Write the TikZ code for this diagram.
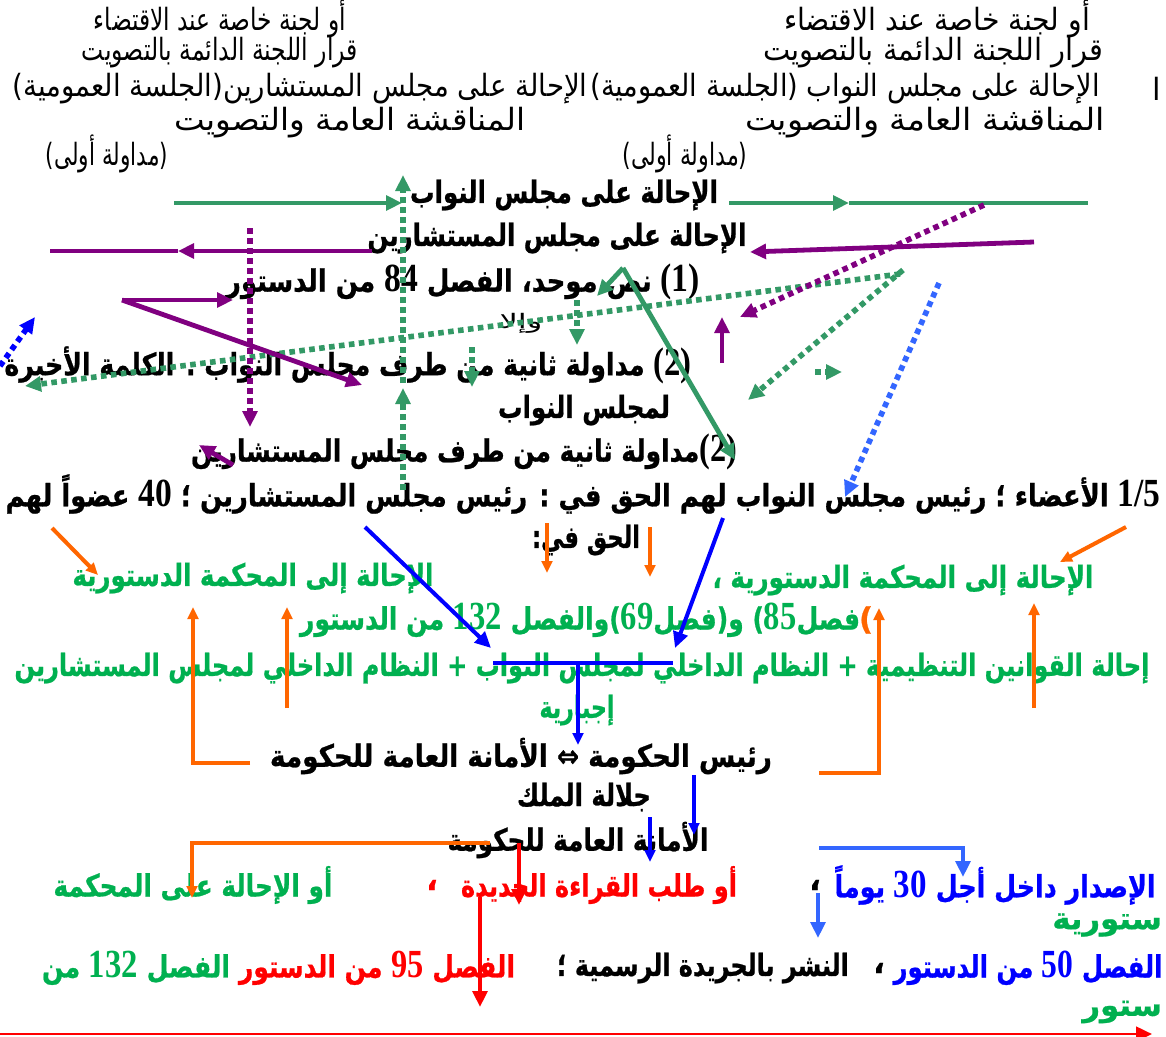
\documentclass[tikz,border=0pt]{standalone}
\usepackage{fontspec}
\usepackage{graphicx}
\usetikzlibrary{arrows.meta}
\TeXXeTstate=1
\newfontfamily\arab[Script=Arabic]{DejaVu Sans}
\newfontfamily\arabB[Script=Arabic,FakeBold=0.8]{DejaVu Sans Bold}
\newfontfamily\numf{Liberation Serif Bold}
\newdimen\pxu \pxu=0.75pt
\newcommand\AR[2]{\resizebox{#1\pxu}{\height}{#2}}
\newcommand\NN[1]{\beginL\scalebox{1.3}{\numf #1}\endL}
\definecolor{tgreen}{HTML}{00B050}
\definecolor{agreen}{HTML}{339966}
\definecolor{purp}{HTML}{800080}
\definecolor{bblue}{HTML}{0000FF}
\definecolor{lblue}{HTML}{3366FF}
\definecolor{orng}{HTML}{FF6600}
\definecolor{rred}{HTML}{FF0000}
\begin{document}
\begin{tikzpicture}[x=0.75pt,y=-0.75pt,
  tx/.style={inner sep=0pt,outer sep=0pt,anchor=center},
  reg/.style={tx,font=\arab\fontsize{23}{26}\selectfont},
  small/.style={tx,font=\arab\fontsize{15}{17}\selectfont},
  bld/.style={tx,font=\arabB\fontsize{23}{27}\selectfont},
  tipL/.style={-{Triangle[length=12pt,width=11pt]}},
  tipS/.style={-{Triangle[length=9pt,width=8pt]}},
  gsol/.style={draw=agreen,line width=3.6pt},
  gdot/.style={draw=agreen,line width=4.2pt,dash pattern=on 4.2pt off 3.3pt},
  psol/.style={draw=purp,line width=3.6pt},
  pdot/.style={draw=purp,line width=4.2pt,dash pattern=on 4.2pt off 3.3pt},
  bsol/.style={draw=bblue,line width=3pt},
  bdot/.style={draw=bblue,line width=4.2pt,dash pattern=on 4.2pt off 3.3pt},
  lbdot/.style={draw=lblue,line width=4.2pt,dash pattern=on 4.2pt off 3.3pt},
  lbsol/.style={draw=lblue,line width=3pt},
  osol/.style={draw=orng,line width=3pt},
  rsol/.style={draw=rred,line width=3.5pt},
  rthin/.style={draw=rred,line width=2pt}]
\useasboundingbox (0,0) rectangle (1166,1036);
\fill[white] (0,0) rectangle (1166,1036);
\clip (0,0) rectangle (1166,1036);

% ---------- top blocks ----------
\node[reg] (l1) at (220,19) {\AR{252}{\beginR أو لجنة خاصة عند الاقتضاء\endR}};
\node[reg] (l2) at (220,53) {\AR{276}{\beginR قرار اللجنة الدائمة بالتصويت\endR}};
\node[reg] (l3) at (300,89) {\AR{575}{\beginR الإحالة على مجلس المستشارين(الجلسة العمومية)\endR}};
\node[reg] (l4) at (350,123) {\AR{350}{\beginR المناقشة العامة والتصويت\endR}};
\node[reg] (l5) at (107,154) {\AR{122}{\beginR (مداولة أولى)\endR}};

\node[reg] (r1) at (937,19) {\AR{306}{\beginR أو لجنة خاصة عند الاقتضاء\endR}};
\node[reg] (r2) at (933,53) {\AR{340}{\beginR قرار اللجنة الدائمة بالتصويت\endR}};
\node[reg] (r3) at (845,89) {\AR{509}{\beginR الإحالة على مجلس النواب (الجلسة العمومية)\endR}};
\node[reg] (r3b) at (1157,89) {ا};
\node[reg] (r4) at (925,123) {\AR{360}{\beginR المناقشة العامة والتصويت\endR}};
\node[reg] (r5) at (685,154) {\AR{125}{\beginR (مداولة أولى)\endR}};

% ---------- middle black bold ----------
\node[bld] (m1) at (564,195) {\AR{308}{\beginR الإحالة على مجلس النواب\endR}};
\node[bld] (m2) at (557,238) {\AR{379}{\beginR الإحالة على مجلس المستشارين\endR}};
\node[bld] (m3) at (463,282) {\AR{474}{\beginR \NN{(1)} نص موحد، الفصل \NN{84} من الدستور\endR}};
\node[small] (m4) at (521,323) {\AR{43}{\beginR وإلا\endR}};
\node[bld] (m5) at (348,365) {\AR{687}{\beginR \NN{(2)} مداولة ثانية من طرف مجلس النواب . الكلمة الأخيرة\endR}};
\node[bld] (m6) at (584,410) {\AR{172}{\beginR لمجلس النواب\endR}};
\node[bld] (m7) at (464,452) {\AR{546}{\beginR \NN{(2)}مداولة ثانية من طرف مجلس المستشارين\endR}};
\node[bld] (m8) at (583,494) {\AR{1155}{\beginR \NN{1/5} الأعضاء ؛ رئيس مجلس النواب لهم الحق في :  رئيس مجلس المستشارين ؛ \NN{40} عضواً لهم\endR}};
\node[bld] (m9) at (586,540) {\AR{108}{\beginR الحق في:\endR}};

% ---------- green ----------
\node[bld,text=tgreen] (g1) at (903,580) {\AR{381}{\beginR الإحالة إلى المحكمة الدستورية ،\endR}};
\node[bld,text=tgreen] (g2) at (253,578) {\AR{361}{\beginR الإحالة إلى المحكمة الدستورية\endR}};
\node[bld,text=tgreen] (g3) at (580,620) {\AR{560}{\beginR فصل\NN{85}) و(فصل\NN{69})والفصل \NN{132} من الدستور\endR}};
\node[bld,text=orng] (g3p) at (866,620) {)};
\node[bld,text=tgreen] (g4) at (582,668) {\AR{1135}{\beginR إحالة القوانين التنظيمية + النظام الداخلي لمجلس النواب + النظام الداخلي لمجلس المستشارين\endR}};
\node[bld,text=tgreen] (g5) at (577,710) {\AR{75}{\beginR إجبارية\endR}};

% ---------- lower black ----------
\node[bld] (k1) at (521,756) {\AR{502}{\beginR رئيس الحكومة ⇔ الأمانة العامة للحكومة\endR}};
\node[bld] (k2) at (584,797) {\AR{134}{\beginR جلالة الملك\endR}};
\node[bld] (k3) at (578,840) {\AR{261}{\beginR الأمانة العامة للحكومة\endR}};

% ---------- row 885 ----------
\node[bld,text=tgreen] (c1) at (193,885) {\AR{279}{\beginR أو الإحالة على المحكمة\endR}};
\node[bld,text=rred] (c2) at (599,885) {\AR{276}{\beginR أو طلب القراءة الجديدة\endR}};
\node[bld,text=rred] (c2c) at (432,885) {،};
\node[bld,text=bblue] (c3) at (995,885) {\AR{321}{\beginR الإصدار داخل أجل \NN{30} يوماً\endR}};
\node[bld] (c3c) at (815,885) {،};
\node[bld,text=tgreen,anchor=east] (c4) at (1162,925) {ستورية};

% ---------- row 968 ----------
\node[bld,text=bblue] (d1) at (1028,968) {\AR{269}{\beginR الفصل \NN{50} من الدستور\endR}};
\node[bld] (d1c) at (879,968) {،};
\node[bld] (d2) at (703,968) {\AR{292}{\beginR النشر بالجريدة الرسمية ؛\endR}};
\node[bld,text=rred] (d3) at (377,968) {\AR{276}{\beginR الفصل \NN{95} من الدستور\endR}};
\node[bld,text=tgreen] (d4) at (136,968) {\AR{188}{\beginR الفصل \NN{132} من\endR}};
\node[bld,text=tgreen,anchor=east] (d5) at (1162,1012) {ستور};

% ---------- coordinates ----------
\coordinate (ga1) at (174,203); \coordinate (ga2) at (402,203);
\coordinate (gb1) at (729,203); \coordinate (gbm) at (849,203); \coordinate (gb2) at (1088,203);
\coordinate (gv0) at (623,268); \coordinate (gv1) at (597,296); \coordinate (gv2) at (735,460);
\coordinate (gd1a) at (403,383); \coordinate (gd1b) at (403,175);
\coordinate (gd7a) at (403,490); \coordinate (gd7b) at (403,388);
\coordinate (gd2a) at (900,274); \coordinate (gd2b) at (25,386);
\coordinate (gd3a) at (903,270); \coordinate (gd3b) at (748,400);
\coordinate (gd4a) at (815,372); \coordinate (gd4b) at (842,372);
\coordinate (gd5a) at (577,300); \coordinate (gd5b) at (577,345);
\coordinate (gd6a) at (472,347); \coordinate (gd6b) at (472,387);

\coordinate (pa1) at (372,251); \coordinate (pam) at (178,251); \coordinate (pa2) at (50,251);
\coordinate (pb1) at (1034,242); \coordinate (pb2) at (750,252);
\coordinate (pz0) at (122,300); \coordinate (pz1) at (233,300); \coordinate (pz2) at (362,385);
\coordinate (pd1) at (250,228); \coordinate (pd2) at (250,427);
\coordinate (pd3) at (984,205); \coordinate (pd4) at (740,317);
\coordinate (pu1) at (722,363); \coordinate (pu2) at (722,317);
\coordinate (ps1) at (233,465); \coordinate (ps2) at (199,445);

\coordinate (bd1) at (939,283); \coordinate (bd2) at (845,497);
\coordinate (bd3) at (0,366); \coordinate (bd4) at (35,317);
\coordinate (bs1) at (365,527); \coordinate (bs2) at (491,648);
\coordinate (bs3) at (723,518); \coordinate (bs4) at (675,648);
\coordinate (bt1) at (493,663); \coordinate (bt2) at (673,663);
\coordinate (bt3) at (578,663); \coordinate (bt4) at (578,745);
\coordinate (bv1) at (694,775); \coordinate (bv2) at (694,835);
\coordinate (bv3) at (650,817); \coordinate (bv4) at (650,862);
\coordinate (lb1) at (819,848); \coordinate (lb2) at (963,848); \coordinate (lb3) at (963,877);
\coordinate (lb4) at (818,893); \coordinate (lb5) at (818,938);

\coordinate (oa1) at (52,528); \coordinate (oa2) at (98,575);
\coordinate (ob1) at (547,523); \coordinate (ob2) at (547,573);
\coordinate (ob3) at (650,527); \coordinate (ob4) at (650,577);
\coordinate (oc1) at (1126,527); \coordinate (oc2) at (1060,562);
\coordinate (od1) at (287,708); \coordinate (od2) at (287,607);
\coordinate (oe1) at (1034,708); \coordinate (oe2) at (1034,603);
\coordinate (of1) at (250,763); \coordinate (of2) at (193,763); \coordinate (of3) at (193,607);
\coordinate (og1) at (819,773); \coordinate (og2) at (879,773); \coordinate (og3) at (879,608);
\coordinate (oh1) at (490,843); \coordinate (oh2) at (192,843); \coordinate (oh3) at (192,898);

\coordinate (ra1) at (519,843); \coordinate (ra2) at (519,905);
\coordinate (rb1) at (480,897); \coordinate (rb2) at (480,1007);
\coordinate (rc1) at (0,1034); \coordinate (rc2) at (1152,1034);

% ---------- connectors ----------
\draw[gsol,tipL] (ga1) -- (ga2);
\draw[gsol,tipL] (gb1) -- (gbm);
\draw[gsol] (gbm) -- (gb2);
\draw[gsol,tipL] (gv0) -- (gv1);
\draw[gsol,tipL] (gv0) -- (gv2);
\draw[gdot,tipL] (gd1a) -- (gd1b);
\draw[gdot,tipL] (gd7a) -- (gd7b);
\draw[gdot,tipL] (gd2a) -- (gd2b);
\draw[gdot,tipL] (gd3a) -- (gd3b);
\draw[gdot,tipL] (gd4a) -- (gd4b);
\draw[gdot,tipL] (gd5a) -- (gd5b);
\draw[gdot,tipL] (gd6a) -- (gd6b);

\draw[psol,tipL] (pa1) -- (pam);
\draw[psol] (pam) -- (pa2);
\draw[psol,tipL] (pb1) -- (pb2);
\draw[psol,tipL] (pz0) -- (pz1);
\draw[psol,tipL] (pz0) -- (pz2);
\draw[pdot,tipL] (pd1) -- (pd2);
\draw[pdot,tipL] (pd3) -- (pd4);
\draw[psol,tipL] (pu1) -- (pu2);
\draw[psol,tipL] (ps1) -- (ps2);

\draw[lbdot,tipL] (bd1) -- (bd2);
\draw[bdot,tipL] (bd3) -- (bd4);
\draw[bsol,tipL] (bs1) -- (bs2);
\draw[bsol,tipL] (bs3) -- (bs4);
\draw[bsol] (bt1) -- (bt2);
\draw[bsol,tipS] (bt3) -- (bt4);
\draw[bsol,tipS] (bv1) -- (bv2);
\draw[bsol,tipS] (bv3) -- (bv4);
\draw[lbsol,tipL] (lb1) -- (lb2) -- (lb3);
\draw[lbsol,tipL] (lb4) -- (lb5);

\draw[osol,tipS] (oa1) -- (oa2);
\draw[osol,tipS] (ob1) -- (ob2);
\draw[osol,tipS] (ob3) -- (ob4);
\draw[osol,tipS] (oc1) -- (oc2);
\draw[osol,tipS] (od1) -- (od2);
\draw[osol,tipS] (oe1) -- (oe2);
\draw[osol,tipS] (of1) -- (of2) -- (of3);
\draw[osol,tipS] (og1) -- (og2) -- (og3);
\draw[osol,tipS] (oh1) -- (oh2) -- (oh3);

\draw[rsol,tipL] (ra1) -- (ra2);
\draw[rsol,tipL] (rb1) -- (rb2);
\draw[rthin,tipL] (rc1) -- (rc2);
\end{tikzpicture}
\end{document}
